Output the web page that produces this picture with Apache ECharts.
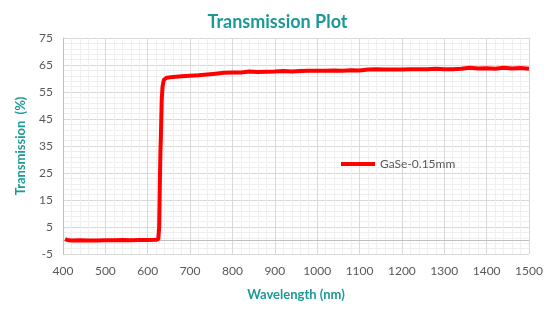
<!DOCTYPE html>
<html>
<head>
<meta charset="utf-8">
<script src="https://cdn.jsdelivr.net/npm/echarts@6/dist/echarts.min.js"></script>
<style>html,body{margin:0;padding:0;background:#fff}#c{width:555px;height:330px}</style>
</head>
<body>
<div id="c"></div>
<script>
var wavelength = [405,410,420,440,460,480,500,520,540,560,580,600,620,625,627,628,629,630,631,632,633,635,638,645,660,680,700,720,740,760,780,800,820,840,860,880,900,920,940,960,980,1000,1020,1040,1060,1080,1100,1120,1140,1160,1180,1200,1220,1240,1260,1280,1300,1320,1340,1360,1380,1400,1420,1440,1460,1480,1500];
var transmission = [0.5,0.2,0.0,0.1,0.0,0.0,0.1,0.1,0.2,0.1,0.2,0.2,0.3,0.5,5,15,25,33,38,45,52,57,59.5,60.3,60.6,60.8,61.0,61.2,61.5,61.8,62.1,62.2,62.2,62.6,62.4,62.5,62.6,62.8,62.6,62.8,62.9,62.9,62.9,63.0,62.9,63.1,63.0,63.3,63.4,63.3,63.3,63.3,63.4,63.4,63.4,63.6,63.4,63.4,63.6,64.0,63.7,63.8,63.6,64.0,63.7,63.9,63.6];
var seriesName = 'GaSe-0.15mm';
var titleText = 'Transmission Plot';
var xName = 'Wavelength (nm)';
var yName = 'Transmission  (%)';

var pts = wavelength.map(function (w, i) { return [w, transmission[i]]; });
var teal = '#1b9a95';
var chart = echarts.init(document.getElementById('c'));
chart.setOption({
  animation: false,
  title: { text: titleText, left: 'center', top: 8,
    textStyle: { color: teal, fontFamily: 'Lato', fontWeight: 'bold', fontSize: 18 } },
  grid: { left: 63, right: 26, top: 38, bottom: 76 },
  legend: { left: 336, top: 153, itemWidth: 34, itemHeight: 4, itemGap: 4,
    data: [{ name: seriesName, icon: 'rect' }],
    textStyle: { color: '#595959', fontFamily: 'Lato', fontSize: 12 } },
  xAxis: {
    type: 'value', min: 400, max: 1500, interval: 100,
    name: xName, nameLocation: 'middle', nameGap: 34,
    nameTextStyle: { color: teal, fontFamily: 'Lato', fontWeight: 'bold', fontSize: 13 },
    axisLine: { show: true, lineStyle: { color: '#bfbfbf' } },
    axisTick: { show: false },
    axisLabel: { color: '#595959', fontFamily: 'Lato', fontSize: 12, margin: 11,
      formatter: function (v) { return String(v); } },
    splitLine: { show: true, lineStyle: { color: '#d9d9d9' } },
    minorTick: { show: false, splitNumber: 5 },
    minorSplitLine: { show: true, lineStyle: { color: '#efefef' } }
  },
  yAxis: {
    type: 'value', min: -5, max: 75, interval: 10,
    name: yName, nameLocation: 'middle', nameGap: 36,
    nameTextStyle: { color: teal, fontFamily: 'Lato', fontWeight: 'bold', fontSize: 13 },
    axisLine: { show: true, lineStyle: { color: '#bfbfbf' } },
    axisTick: { show: false },
    axisLabel: { color: '#595959', fontFamily: 'Lato', fontSize: 12, margin: 10 },
    splitLine: { show: true, lineStyle: { color: '#d9d9d9' } },
    minorTick: { show: false, splitNumber: 5 },
    minorSplitLine: { show: true, lineStyle: { color: '#efefef' } }
  },
  series: [{
    name: seriesName, type: 'line', data: pts, showSymbol: false, smooth: false,
    lineStyle: { color: '#ff0000', width: 4 }, itemStyle: { color: '#ff0000' }
  }]
});
</script>
</body>
</html>
